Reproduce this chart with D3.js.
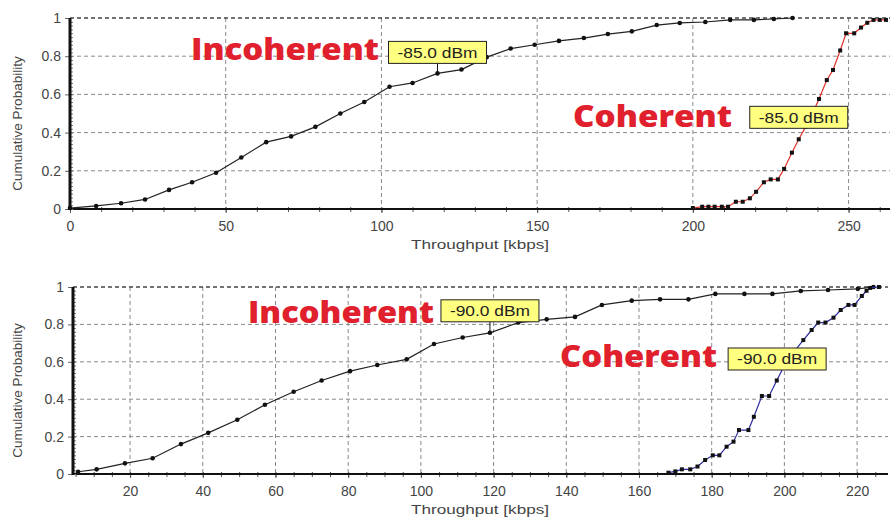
<!DOCTYPE html>
<html>
<head>
<meta charset="utf-8">
<script src="https://cdnjs.cloudflare.com/ajax/libs/d3/7.8.5/d3.min.js"></script>
<style>
    body { margin: 0; background: #fff; }
    #chart { width: 891px; height: 525px; }
    .tick text { font-family: "Liberation Sans", Arial, sans-serif; font-size: 14px; fill: #444; }
    .axis-title { font-family: "Liberation Sans", Arial, sans-serif; font-size: 13.5px; fill: #444; }
    .big-label { font-family: "Open Sans", sans-serif; font-weight: 800; font-size: 30px; fill: #e0202c; }
    .tag text { font-family: "Liberation Sans", Arial, sans-serif; font-size: 15px; fill: #222; }
</style>
</head>
<body>
<div id="chart"></div>
<script>
// ---- data ----
// top panel (-85.0 dBm)
var topIncX = [0, 8.4, 16.4, 24.1, 31.8, 39.2, 46.9, 55, 63, 71, 78.8, 86.8, 94.5, 102.6, 110, 118, 125.7, 133.8, 141.5, 149.2, 157, 165, 172.7, 180.4, 188.4, 195.8, 204, 212, 219.6, 226, 232];
var topIncY = [0.005, 0.016, 0.03, 0.05, 0.10, 0.14, 0.19, 0.27, 0.35, 0.38, 0.43, 0.50, 0.56, 0.64, 0.66, 0.71, 0.73, 0.795, 0.84, 0.86, 0.88, 0.895, 0.916, 0.93, 0.963, 0.974, 0.979, 0.99, 0.99, 0.995, 1.0];
var topCohX = [200, 203, 205, 207, 209.3, 211.3, 213.8, 216, 218.3, 220.3, 222.8, 225, 227.3, 229.3, 231.8, 234, 236.2, 238.4, 240.5, 243, 245, 247.3, 249.2, 251.8, 254, 256, 258, 260, 262];
var topCohY = [0.005, 0.012, 0.012, 0.012, 0.012, 0.012, 0.038, 0.038, 0.056, 0.09, 0.14, 0.155, 0.155, 0.21, 0.295, 0.365, 0.43, 0.50, 0.576, 0.675, 0.728, 0.83, 0.92, 0.92, 0.95, 0.975, 0.99, 0.99, 0.99];
var topTicks = [0, 50, 100, 150, 200, 250];

// bottom panel (-90.0 dBm)
var botIncX = [5.7, 10.8, 18.6, 26.2, 34, 41.5, 49.5, 57.1, 65, 72.7, 80.5, 88, 96.1, 103.6, 111.5, 119, 126.8, 134.6, 142.4, 149.8, 158, 165.8, 173.6, 181, 189, 196.7, 204.5, 212, 220.2, 224.5];
var botIncY = [0.012, 0.025, 0.057, 0.084, 0.16, 0.22, 0.29, 0.37, 0.44, 0.50, 0.55, 0.583, 0.613, 0.695, 0.73, 0.755, 0.81, 0.827, 0.84, 0.904, 0.927, 0.934, 0.934, 0.963, 0.963, 0.963, 0.979, 0.984, 0.99, 1.0];
var botCohX = [168.1, 170, 171.8, 174.1, 176.1, 178.2, 180.3, 182.1, 184.1, 186, 187.5, 190.1, 191.6, 193.8, 195.8, 197.9, 200, 202.5, 205.2, 207.5, 209.3, 211.3, 213.5, 215.5, 217.6, 219.3, 221.3, 222.6, 223.6, 226];
var botCohY = [0.007, 0.014, 0.025, 0.025, 0.04, 0.075, 0.10, 0.10, 0.146, 0.173, 0.235, 0.235, 0.306, 0.417, 0.417, 0.50, 0.58, 0.65, 0.716, 0.77, 0.81, 0.81, 0.836, 0.877, 0.904, 0.904, 0.952, 0.98, 0.995, 1.0];
var botTicks = [20, 40, 60, 80, 100, 120, 140, 160, 180, 200, 220];

var yTicks = [0, 0.2, 0.4, 0.6, 0.8, 1];
var yTickLabels = ["0", "0.2", "0.4", "0.6", "0.8", "1"];

function zip(xs, ys) {
    return xs.map(function(x, i) { return {x: x, y: ys[i]}; });
}

var svg = d3.select("#chart").append("svg")
    .attr("width", 891)
    .attr("height", 525);

CdfPanel = function(_svg, _cfg) {
    this.svg = _svg;
    this.cfg = _cfg;
    this.initVis();
};

CdfPanel.prototype.initVis = function() {
    var vis = this;
    var c = vis.cfg;

    vis.x = d3.scaleLinear().domain(c.xDomain).range([c.left, c.right]);
    vis.y = d3.scaleLinear().domain([0, 1]).range([c.bottom, c.top]);

    vis.g = vis.svg.append("g");

    // dashed grid
    vis.g.append("g").selectAll("line.gx")
        .data(c.xTicks.filter(function(d) { return d > c.xDomain[0]; }))
        .enter().append("line")
        .attr("x1", function(d) { return vis.x(d); })
        .attr("x2", function(d) { return vis.x(d); })
        .attr("y1", c.top)
        .attr("y2", c.bottom)
        .attr("stroke", "#8a8a8a")
        .attr("stroke-dasharray", "4,3");

    vis.g.append("g").selectAll("line.gy")
        .data(yTicks.slice(1))
        .enter().append("line")
        .attr("x1", c.left)
        .attr("x2", c.right)
        .attr("y1", function(d) { return vis.y(d); })
        .attr("y2", function(d) { return vis.y(d); })
        .attr("stroke", function(d) { return d === 1 ? "#444" : "#8a8a8a"; })
        .attr("stroke-width", function(d) { return d === 1 ? 1.3 : 1; })
        .attr("stroke-dasharray", "4,3");

    // x axis
    var minor = d3.range(Math.ceil(c.xDomain[0] / c.minorStep) * c.minorStep, c.xDomain[1], c.minorStep);
    vis.g.append("g")
        .attr("transform", "translate(0," + c.bottom + ")")
        .call(d3.axisBottom(vis.x).tickValues(minor).tickSize(3).tickFormat(""))
        .call(function(g) {
            g.select(".domain").remove();
            g.selectAll(".tick line").attr("stroke", "#555").attr("y1", -2);
        });

    vis.g.append("g")
        .attr("transform", "translate(0," + c.bottom + ")")
        .call(d3.axisBottom(vis.x).tickValues(c.xTicks).tickSize(4).tickPadding(8).tickFormat(d3.format("d")))
        .call(function(g) {
            g.select(".domain").remove();
            g.selectAll(".tick line").attr("stroke", "#555");
        });

    vis.g.append("line")
        .attr("x1", c.left).attr("x2", c.right)
        .attr("y1", c.bottom).attr("y2", c.bottom)
        .attr("stroke", "#111").attr("stroke-width", 2);

    // y axis
    vis.g.append("g")
        .attr("transform", "translate(" + c.left + ",0)")
        .call(d3.axisLeft(vis.y).tickValues(d3.range(0, 1.001, 0.02)).tickSize(-3).tickFormat(""))
        .call(function(g) {
            g.select(".domain").remove();
            g.selectAll(".tick line").attr("stroke", "#777");
        });

    vis.g.append("g")
        .attr("transform", "translate(" + c.left + ",0)")
        .call(d3.axisLeft(vis.y).tickValues(yTicks).tickSize(5).tickPadding(4)
            .tickFormat(function(d, i) { return yTickLabels[i]; }))
        .call(function(g) {
            g.select(".domain").remove();
            g.selectAll(".tick line").attr("stroke", "#666");
        });

    vis.g.append("line")
        .attr("x1", c.left).attr("x2", c.left)
        .attr("y1", c.top).attr("y2", c.bottom + 1)
        .attr("stroke", "#111").attr("stroke-width", 3);

    // axis titles
    vis.g.append("text")
        .attr("class", "axis-title")
        .attr("text-anchor", "middle")
        .attr("x", c.xTitleX)
        .attr("y", c.bottom + 40)
        .attr("textLength", 138)
        .attr("lengthAdjust", "spacingAndGlyphs")
        .text("Throughput [kbps]");

    vis.g.append("text")
        .attr("class", "axis-title")
        .attr("text-anchor", "middle")
        .attr("transform", "translate(22," + ((c.top + c.bottom) / 2 + 10) + ") rotate(-90)")
        .text("Cumulative Probability");

    vis.updateVis();
};

CdfPanel.prototype.updateVis = function() {
    var vis = this;
    var c = vis.cfg;

    var line = d3.line()
        .x(function(d) { return vis.x(d.x); })
        .y(function(d) { return vis.y(d.y); });

    // incoherent curve
    vis.g.append("path")
        .datum(c.inc)
        .attr("d", line)
        .attr("fill", "none")
        .attr("stroke", "#222")
        .attr("stroke-width", 1.2);

    vis.g.append("g").selectAll("circle")
        .data(c.inc)
        .enter().append("circle")
        .attr("cx", function(d) { return vis.x(d.x); })
        .attr("cy", function(d) { return vis.y(d.y); })
        .attr("r", 2.3)
        .attr("fill", "#111");

    // coherent curve
    vis.g.append("path")
        .datum(c.coh)
        .attr("d", line)
        .attr("fill", "none")
        .attr("stroke", c.cohColor)
        .attr("stroke-width", 1.2);

    vis.g.append("g").selectAll("rect")
        .data(c.coh)
        .enter().append("rect")
        .attr("x", function(d) { return vis.x(d.x) - 2; })
        .attr("y", function(d) { return vis.y(d.y) - 2; })
        .attr("width", 4)
        .attr("height", 4)
        .attr("fill", "#111");

    // dBm tags
    c.tags.forEach(function(t) {
        var px = vis.x(t.x), py = vis.y(t.y);
        var cy = t.lead ? py - t.lead - 11 : py;
        var tg = vis.g.append("g").attr("class", "tag");
        if (t.lead) {
            tg.append("line")
                .attr("x1", px).attr("x2", px)
                .attr("y1", py).attr("y2", py - t.lead)
                .attr("stroke", "#111");
        }
        tg.append("rect")
            .attr("x", px - 49).attr("y", cy - 11)
            .attr("width", 98).attr("height", 22)
            .attr("fill", "#ffff80")
            .attr("stroke", "#222");
        tg.append("text")
            .attr("x", px).attr("y", cy + 5.5)
            .attr("text-anchor", "middle")
            .attr("textLength", 80)
            .attr("lengthAdjust", "spacingAndGlyphs")
            .text(c.tagText);
    });

    // big red captions
    c.captions.forEach(function(k) {
        vis.g.append("text")
            .attr("class", "big-label")
            .attr("x", k.x0)
            .attr("y", k.base)
            .attr("textLength", k.x1 - k.x0)
            .attr("lengthAdjust", "spacingAndGlyphs")
            .text(k.text);
    });
};

var topPanel = new CdfPanel(svg, {
    left: 70, right: 890, top: 18, bottom: 209,
    xDomain: [0, 263.3], xTicks: topTicks, minorStep: 10, xTitleX: 480,
    inc: zip(topIncX, topIncY), coh: zip(topCohX, topCohY), cohColor: "#e0302c",
    tagText: "-85.0 dBm",
    tags: [{x: 118, y: 0.71, lead: 10}, {x: 234, y: 0.48, lead: 0}],
    captions: [{text: "Incoherent", x0: 191, x1: 379, base: 60},
               {text: "Coherent", x0: 573, x1: 732, base: 127}]
});

var bottomPanel = new CdfPanel(svg, {
    left: 73, right: 888, top: 287, bottom: 474,
    xDomain: [4.3, 228.5], xTicks: botTicks, minorStep: 5, xTitleX: 480,
    inc: zip(botIncX, botIncY), coh: zip(botCohX, botCohY), cohColor: "#2c2ca0",
    tagText: "-90.0 dBm",
    tags: [{x: 119, y: 0.755, lead: 11}, {x: 198, y: 0.615, lead: 0}],
    captions: [{text: "Incoherent", x0: 248, x1: 434, base: 323},
               {text: "Coherent", x0: 560, x1: 717, base: 367}]
});
</script>
</body>
</html>
